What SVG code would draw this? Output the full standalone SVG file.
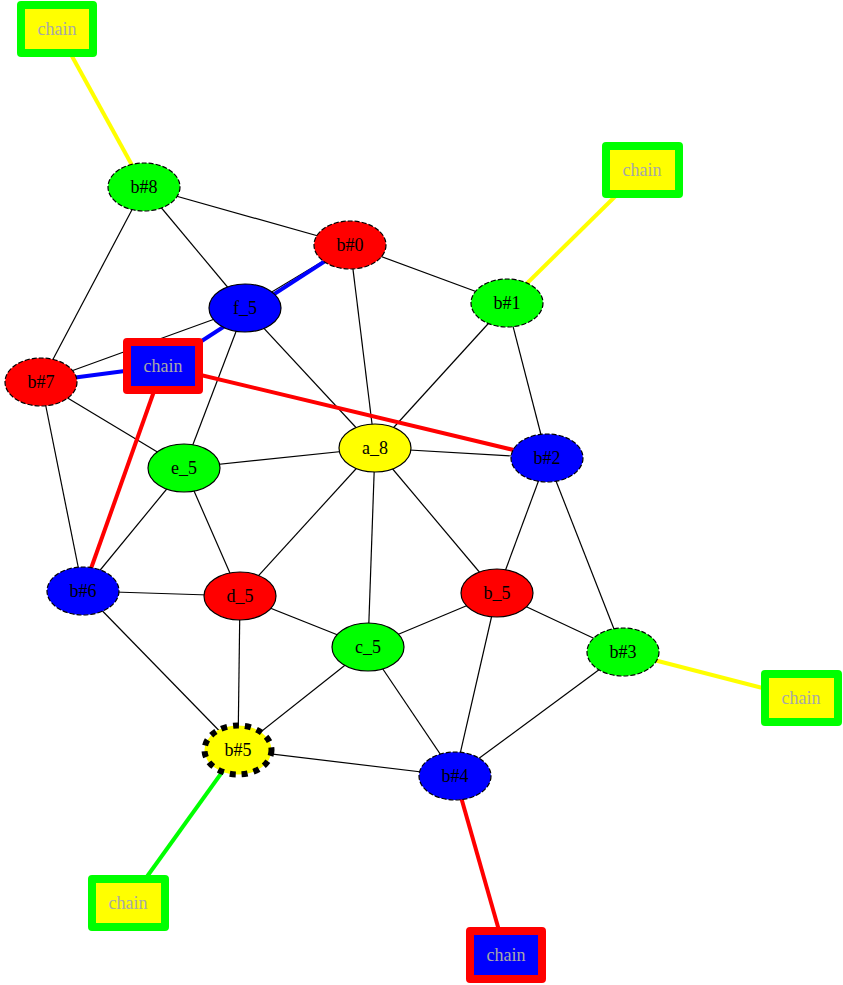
<svg xmlns="http://www.w3.org/2000/svg" width="843" height="985" viewBox="0 0 843 985">
<style>
.e{stroke:#000;stroke-width:1.2;fill:none}
.c{stroke-width:4;fill:none}
.n{stroke:#000;stroke-width:1.2}
.d{stroke-dasharray:5,2}
.t{font-family:"Liberation Serif","Times New Roman",serif;font-size:18px;text-anchor:middle;fill:#000}
.ct{font-family:"Liberation Serif","Times New Roman",serif;font-size:18px;text-anchor:middle;fill:#a8a8a8}
.ch{stroke-width:8;stroke-linejoin:round}
</style>
<rect width="843" height="985" fill="#fff"/>
<g id="edges">
<line class="e" x1="144" y1="187" x2="350" y2="245"/>
<line class="e" x1="144" y1="187" x2="245" y2="308"/>
<line class="e" x1="144" y1="187" x2="41" y2="382"/>
<line class="e" x1="350" y1="245" x2="507" y2="303"/>
<line class="e" x1="350" y1="245" x2="375" y2="448"/>
<line class="e" x1="350" y1="245" x2="245" y2="308"/>
<line class="e" x1="41" y1="382" x2="245" y2="308"/>
<line class="e" x1="41" y1="382" x2="184" y2="468"/>
<line class="e" x1="41" y1="382" x2="83" y2="591"/>
<line class="e" x1="245" y1="308" x2="184" y2="468"/>
<line class="e" x1="245" y1="308" x2="375" y2="448"/>
<line class="e" x1="507" y1="303" x2="375" y2="448"/>
<line class="e" x1="507" y1="303" x2="547" y2="458"/>
<line class="e" x1="375" y1="448" x2="547" y2="458"/>
<line class="e" x1="375" y1="448" x2="184" y2="468"/>
<line class="e" x1="375" y1="448" x2="240" y2="596"/>
<line class="e" x1="375" y1="448" x2="368" y2="647"/>
<line class="e" x1="375" y1="448" x2="497" y2="593"/>
<line class="e" x1="184" y1="468" x2="83" y2="591"/>
<line class="e" x1="184" y1="468" x2="240" y2="596"/>
<line class="e" x1="547" y1="458" x2="497" y2="593"/>
<line class="e" x1="547" y1="458" x2="623" y2="652"/>
<line class="e" x1="83" y1="591" x2="240" y2="596"/>
<line class="e" x1="83" y1="591" x2="238" y2="750"/>
<line class="e" x1="240" y1="596" x2="368" y2="647"/>
<line class="e" x1="240" y1="596" x2="238" y2="750"/>
<line class="e" x1="497" y1="593" x2="368" y2="647"/>
<line class="e" x1="497" y1="593" x2="623" y2="652"/>
<line class="e" x1="497" y1="593" x2="455" y2="776"/>
<line class="e" x1="368" y1="647" x2="238" y2="750"/>
<line class="e" x1="368" y1="647" x2="455" y2="776"/>
<line class="e" x1="623" y1="652" x2="455" y2="776"/>
<line class="e" x1="455" y1="776" x2="238" y2="750"/>
<line class="c" stroke="#0000ff" x1="163" y1="366" x2="350" y2="245"/>
<line class="c" stroke="#0000ff" x1="163" y1="366" x2="41" y2="382"/>
<line class="c" stroke="#ff0000" x1="163" y1="366" x2="547" y2="458"/>
<line class="c" stroke="#ff0000" x1="163" y1="366" x2="83" y2="591"/>
<line class="c" stroke="#ffff00" x1="144" y1="187" x2="57" y2="29"/>
<line class="c" stroke="#ffff00" x1="507" y1="303" x2="642" y2="170"/>
<line class="c" stroke="#ffff00" x1="623" y1="652" x2="801" y2="698"/>
<line class="c" stroke="#00ff00" x1="238" y1="750" x2="128" y2="903"/>
<line class="c" stroke="#ff0000" x1="455" y1="776" x2="506" y2="955"/>
</g>
<g id="b8"><ellipse class="n d" cx="144" cy="187" rx="36" ry="24" fill="#00ff00"/><text class="t" x="144" y="193">b#8</text></g>
<g id="b0"><ellipse class="n d" cx="350" cy="245" rx="36" ry="24" fill="#ff0000"/><text class="t" x="350" y="251">b#0</text></g>
<g id="f5"><ellipse class="n" cx="245" cy="308" rx="36" ry="24" fill="#0000ff"/><text class="t" x="245" y="314">f_5</text></g>
<g id="b1"><ellipse class="n d" cx="507" cy="303" rx="36" ry="24" fill="#00ff00"/><text class="t" x="507" y="309">b#1</text></g>
<g id="b7"><ellipse class="n d" cx="41" cy="382" rx="36" ry="24" fill="#ff0000"/><text class="t" x="41" y="388">b#7</text></g>
<g id="a8"><ellipse class="n" cx="375" cy="448" rx="36" ry="24" fill="#ffff00"/><text class="t" x="375" y="454">a_8</text></g>
<g id="b2"><ellipse class="n d" cx="547" cy="458" rx="36" ry="24" fill="#0000ff"/><text class="t" x="547" y="464">b#2</text></g>
<g id="e5"><ellipse class="n" cx="184" cy="468" rx="36" ry="24" fill="#00ff00"/><text class="t" x="184" y="474">e_5</text></g>
<g id="b6"><ellipse class="n d" cx="83" cy="591" rx="36" ry="24" fill="#0000ff"/><text class="t" x="83" y="597">b#6</text></g>
<g id="d5"><ellipse class="n" cx="240" cy="596" rx="36" ry="24" fill="#ff0000"/><text class="t" x="240" y="602">d_5</text></g>
<g id="b_5"><ellipse class="n" cx="497" cy="593" rx="36" ry="24" fill="#ff0000"/><text class="t" x="497" y="599">b_5</text></g>
<g id="c5"><ellipse class="n" cx="368" cy="647" rx="36" ry="24" fill="#00ff00"/><text class="t" x="368" y="653">c_5</text></g>
<g id="b3"><ellipse class="n d" cx="623" cy="652" rx="36" ry="24" fill="#00ff00"/><text class="t" x="623" y="658">b#3</text></g>
<g id="b5"><ellipse cx="238" cy="750" rx="33.5" ry="24.5" fill="#ffff00" stroke="#000" stroke-width="6" stroke-dasharray="6,6"/><text class="t" x="238" y="756">b#5</text></g>
<g id="b4"><ellipse class="n d" cx="455" cy="776" rx="36" ry="24" fill="#0000ff"/><text class="t" x="455" y="782">b#4</text></g>
<g id="chain_mid"><rect class="ch" x="127" y="342" width="72" height="48" fill="#0000ff" stroke="#ff0000"/><text class="ct" x="163" y="372">chain</text></g>
<g id="chain_tl"><rect class="ch" x="21" y="5" width="72" height="48" fill="#ffff00" stroke="#00ff00"/><text class="ct" x="57" y="35">chain</text></g>
<g id="chain_tr"><rect class="ch" x="606" y="146" width="73" height="48" fill="#ffff00" stroke="#00ff00"/><text class="ct" x="642" y="176">chain</text></g>
<g id="chain_r"><rect class="ch" x="765" y="674" width="73" height="48" fill="#ffff00" stroke="#00ff00"/><text class="ct" x="801" y="704">chain</text></g>
<g id="chain_bl"><rect class="ch" x="92" y="879" width="73" height="48" fill="#ffff00" stroke="#00ff00"/><text class="ct" x="128" y="909">chain</text></g>
<g id="chain_b"><rect class="ch" x="470" y="931" width="72" height="48" fill="#0000ff" stroke="#ff0000"/><text class="ct" x="506" y="961">chain</text></g>
</svg>
